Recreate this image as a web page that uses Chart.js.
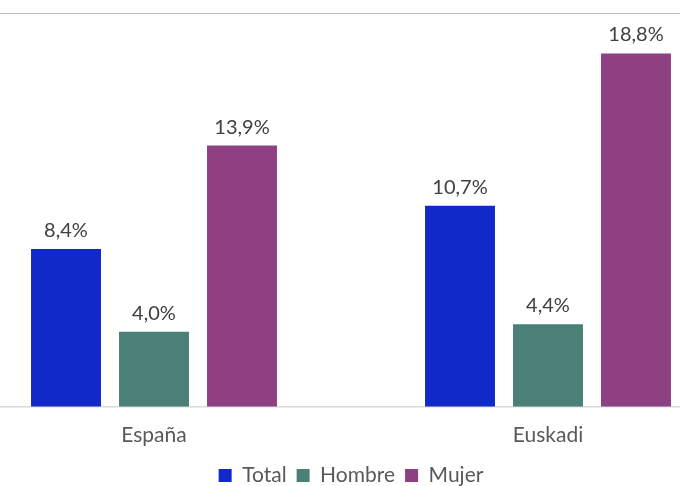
<!DOCTYPE html>
<html>
<head>
<meta charset="utf-8">
<script src="https://cdn.jsdelivr.net/npm/chart.js@4"></script>
<style>
  html, body { margin: 0; padding: 0; background: #fff; overflow: hidden; }
  #wrap { position: absolute; left: -43px; top: 0; width: 788px; height: 486px; }
</style>
</head>
<body>
<div id="wrap"><canvas id="chart"></canvas></div>
<script>
var categories = ['España', 'Euskadi'];
var seriesNames = ['Total', 'Hombre', 'Mujer'];
var total = [8.4, 10.7];
var hombre = [4.0, 4.4];
var mujer = [13.9, 18.8];
var colors = ['#1229c9', '#4a8077', '#8f4083'];

var fontFamily = 'Lato, "Open Sans", sans-serif';

// etiquetas encima de cada barra
var barLabels = {
  id: 'barLabels',
  afterDatasetsDraw: function(chart) {
    var ctx = chart.ctx;
    ctx.save();
    ctx.font = '20px ' + fontFamily;
    ctx.fillStyle = '#404040';
    ctx.textAlign = 'center';
    ctx.textBaseline = 'alphabetic';
    chart.data.datasets.forEach(function(ds, i) {
      chart.getDatasetMeta(i).data.forEach(function(bar, j) {
        var txt = ds.data[j].toFixed(1).replace('.', ',') + '%';
        ctx.fillText(txt, bar.x, bar.y - 12);
      });
    });
    ctx.restore();
  }
};

var ctx = document.getElementById('chart').getContext('2d');
var myChart = new Chart(ctx, {
  type: 'bar',
  data: {
    labels: categories,
    datasets: [
      { label: seriesNames[0], data: total, backgroundColor: colors[0] },
      { label: seriesNames[1], data: hombre, backgroundColor: colors[1] },
      { label: seriesNames[2], data: mujer, backgroundColor: colors[2] }
    ]
  },
  options: {
    responsive: true,
    maintainAspectRatio: false,
    animation: false,
    categoryPercentage: 0.67,
    barPercentage: 0.795,
    layout: { padding: { top: 13, bottom: -10 } },
    plugins: {
      legend: {
        position: 'bottom',
        labels: {
          boxWidth: 13,
          boxHeight: 13,
          padding: 10,
          color: '#595959',
          font: { family: fontFamily, size: 21 }
        }
      },
      tooltip: { enabled: false }
    },
    scales: {
      x: {
        grid: { display: false, drawTicks: false },
        border: { color: '#d9d9d9', width: 1.5 },
        ticks: { color: '#595959', font: { family: fontFamily, size: 21 }, padding: 16 },
        afterFit: function(axis) { axis.height = 48; }
      },
      y: {
        min: 0,
        max: 20.95,
        afterBuildTicks: function(axis) {
          axis.ticks = [{ value: 0 }, { value: 20.95 }];
        },
        ticks: { display: false },
        border: { display: false },
        grid: {
          drawTicks: false,
          color: function(c) { return c.tick.value > 0 ? '#bfbfbf' : 'rgba(0,0,0,0)'; }
        }
      }
    }
  },
  plugins: [barLabels]
});
</script>
</body>
</html>
